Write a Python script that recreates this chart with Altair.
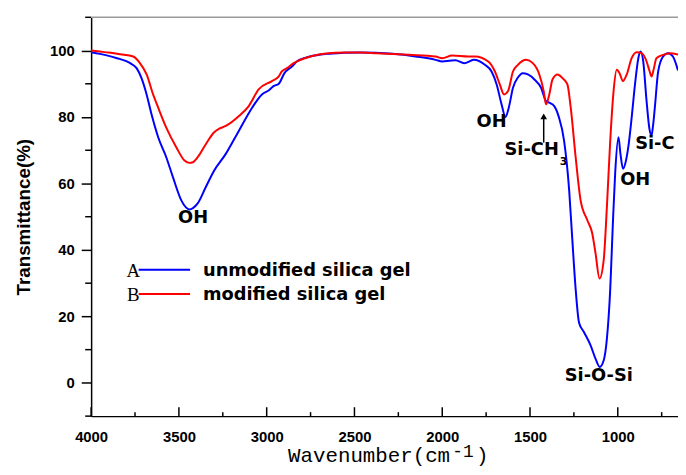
import altair as alt
import pandas as pd

# ---- data ----
blue_wn = [4000, 3950, 3900, 3853, 3800, 3778, 3741, 3713, 3684, 3656, 3618, 3572, 3534, 3487,
           3460, 3440, 3420, 3393, 3346, 3299, 3233, 3158, 3083, 3027, 2989, 2961, 2931, 2899,
           2856, 2828, 2752, 2658, 2560, 2470, 2380, 2282, 2151, 2038, 2000, 1960, 1925, 1875,
           1820, 1757, 1719, 1690, 1662, 1640, 1621, 1597, 1569, 1541, 1512, 1475, 1437, 1409,
           1390, 1362, 1337, 1306, 1277, 1259, 1240, 1221, 1193, 1155, 1127, 1103, 1080, 1062,
           1043, 1028, 1015, 996, 985, 970, 955, 940, 921, 902, 883, 870, 855, 836, 820, 808,
           800, 789, 770, 742, 714, 686, 657]
blue_t = [99.5, 99.0, 98.4, 97.7, 96.8, 96.2, 94.7, 91.7, 86.8, 80.8, 73.9, 67.9, 61.9, 55.0,
          52.8, 52.2, 52.6, 54.0, 59.0, 63.9, 68.9, 75.9, 82.8, 86.8, 88.0, 89.3, 90.0, 93.2,
          95.2, 96.7, 98.2, 99.0, 99.3, 99.4, 99.3, 99.0, 98.2, 97.2, 96.7, 96.9, 97.1, 96.2,
          97.2, 95.7, 93.7, 89.8, 83.8, 80.0, 82.8, 88.8, 91.9, 93.2, 92.8, 91.3, 88.8, 84.8,
          84.3, 83.3, 80.2, 72.9, 58.0, 43.1, 28.2, 18.2, 15.3, 11.3, 7.3, 4.8, 6.8, 13.3,
          28.2, 48.0, 63.0, 73.9, 69.0, 64.4, 66.5, 71.0, 79.8, 89.8, 97.7, 99.7, 96.7, 84.8, 76.5, 74.4,
          77.0, 82.8, 93.7, 98.2, 99.2, 98.2, 94.0]

red_wn = [4000, 3950, 3900, 3835, 3760, 3722, 3684, 3647, 3618, 3572, 3515, 3468, 3440, 3420,
          3393, 3346, 3299, 3270, 3233, 3158, 3102, 3046, 2970, 2931, 2914, 2884, 2846, 2752,
          2650, 2564, 2470, 2376, 2188, 2038, 2000, 1944, 1850, 1813, 1738, 1700, 1672, 1648,
          1625, 1597, 1569, 1522, 1484, 1447, 1422, 1409, 1390, 1372, 1343, 1315, 1287, 1268,
          1240, 1212, 1174, 1146, 1127, 1104, 1080, 1062, 1043, 1024, 1006, 990, 971, 949,
          921, 893, 864, 836, 820, 808, 795, 780, 742, 704, 657]
red_t = [100.0, 99.7, 99.4, 98.9, 98.2, 96.2, 92.8, 86.8, 82.8, 76.8, 70.9, 66.9, 66.2, 66.4,
         67.9, 71.9, 75.4, 76.5, 77.3, 80.3, 83.3, 88.3, 90.8, 92.2, 93.7, 94.7, 96.2, 98.2,
         99.2, 99.4, 99.4, 99.2, 98.7, 98.2, 97.7, 98.5, 98.2, 98.2, 96.7, 93.7, 89.8, 86.8,
         87.8, 93.7, 95.7, 97.2, 96.2, 92.8, 87.8, 83.8, 86.8, 91.3, 92.8, 91.7, 89.8, 82.8,
         67.9, 55.0, 49.0, 45.1, 39.1, 31.4, 37.1, 53.0, 72.9, 87.8, 94.2, 93.2, 90.8, 92.8,
         97.7, 99.5, 99.2, 96.7, 94.0, 92.2, 94.5, 97.7, 98.7, 99.2, 98.8]

series_names = ["unmodified silica gel", "modified silica gel"]
series_letters = ["A", "B"]
series_colors = ["#0000FF", "#FF0000"]

x_major = [4000, 3500, 3000, 2500, 2000, 1500, 1000]
x_minor = [3750, 3250, 2750, 2250, 1750, 1250, 750]
y_major = [0, 20, 40, 60, 80, 100]
y_minor = [-10, 10, 30, 50, 70, 90, 110]

ann_text = ["OH", "OH", "Si-O-Si", "OH", "Si-C"]
ann_wn = [3419, 1719, 1108, 901, 789]
ann_t = [49.7, 78.4, 2.2, 60.9, 72.0]

# ---- layout ----
W, H = 593, 403
xs = alt.Scale(domain=[657, 4000], reverse=True, nice=False, zero=False)
ys = alt.Scale(domain=[-10, 110], nice=False, zero=False)

xaxis = alt.Axis(values=x_major, format="d", title=None, grid=False, ticks=False, tickSize=0,
                 labelFont="Liberation Sans", labelFontWeight="bold", labelFontSize=15,
                 labelColor="black", labelPadding=14, labelFlush=False, labelOverlap=False,
                 domainColor="black", domainWidth=1.5)
yaxis = alt.Axis(values=y_major, format="d", title="Transmittance(%)", grid=False,
                 tickSize=10, tickColor="black", tickWidth=1.5,
                 labelFont="Liberation Sans", labelFontWeight="bold", labelFontSize=15,
                 labelColor="black", labelPadding=7,
                 titleFont="Liberation Sans", titleFontWeight="bold", titleFontSize=19,
                 titleColor="black", titlePadding=16,
                 domainColor="black", domainWidth=1.5)


def X(field):
    return alt.X(field, scale=xs, axis=xaxis)


def Y(field):
    return alt.Y(field, scale=ys, axis=yaxis)


blue_df = pd.DataFrame({"wn": blue_wn, "T": blue_t})
red_df = pd.DataFrame({"wn": red_wn, "T": red_t})

blue = alt.Chart(blue_df).mark_line(color=series_colors[0], strokeWidth=2, interpolate="monotone").encode(
    x=X("wn:Q"), y=Y("T:Q"), order=alt.Order("wn:Q", sort="descending"))
red = alt.Chart(red_df).mark_line(color=series_colors[1], strokeWidth=2, interpolate="monotone").encode(
    x=X("wn:Q"), y=Y("T:Q"), order=alt.Order("wn:Q", sort="descending"))

# inward x ticks
xt_major = alt.Chart(pd.DataFrame({"wn": x_major})).mark_rule(color="black", strokeWidth=1.5).encode(
    x=X("wn:Q"), y=alt.value(H), y2=alt.value(H - 9))
xt_minor = alt.Chart(pd.DataFrame({"wn": x_minor})).mark_rule(color="black", strokeWidth=1.5).encode(
    x=X("wn:Q"), y=alt.value(H), y2=alt.value(H - 4))
# minor y ticks (outward)
yt_minor = alt.Chart(pd.DataFrame({"T": y_minor})).mark_rule(color="black", strokeWidth=1.5).encode(
    y=Y("T:Q"), x=alt.value(-6), x2=alt.value(0))

# top frame line
top_line = alt.Chart(alt.Data(values=[{}])).mark_rule(color="#999999", strokeWidth=1.5).encode(
    x=alt.value(0), x2=alt.value(W), y=alt.value(0))

# annotations
ann_df = pd.DataFrame({"label": ann_text, "wn": ann_wn, "T": ann_t})
ann = alt.Chart(ann_df).mark_text(font="DejaVu Sans", fontWeight="bold", fontSize=18,
                                  align="center", baseline="middle", color="black").encode(
    x=X("wn:Q"), y=Y("T:Q"), text="label:N")
sich = alt.Chart(alt.Data(values=[{"wn": 1336, "T": 70.1, "s": "Si-CH"}])).mark_text(
    font="DejaVu Sans", fontWeight="bold", fontSize=18, align="right", baseline="middle",
    color="black").encode(x=X("wn:Q"), y=Y("T:Q"), text="s:N")
sub3 = alt.Chart(alt.Data(values=[{"wn": 1330, "T": 66.6, "s": "3"}])).mark_text(
    font="DejaVu Sans", fontWeight="bold", fontSize=11, align="left", baseline="middle",
    color="black").encode(x=X("wn:Q"), y=Y("T:Q"), text="s:N")
arrow_shaft = alt.Chart(alt.Data(values=[{"wn": 1422, "T": 72.3, "T2": 80.0}])).mark_rule(
    color="black", strokeWidth=1.5).encode(x=X("wn:Q"), y=Y("T:Q"), y2="T2:Q")
arrow_head = alt.Chart(alt.Data(values=[{"wn": 1422, "T": 80.2}])).mark_point(
    shape="triangle-up", filled=True, color="black", size=45, opacity=1).encode(
    x=X("wn:Q"), y=Y("T:Q"))

# legend
legend_layers = []
for i in range(2):
    yy = 256.5 + i * 24.5
    legend_layers.append(alt.Chart(alt.Data(values=[{}])).mark_text(
        font="Liberation Serif", fontSize=19, align="center", baseline="middle", color="black").encode(
        x=alt.value(42.5), y=alt.value(yy), text=alt.value(series_letters[i])))
    legend_layers.append(alt.Chart(alt.Data(values=[{}])).mark_rule(
        color=series_colors[i], strokeWidth=2).encode(
        x=alt.value(48), x2=alt.value(100), y=alt.value(yy - 1.5)))
    legend_layers.append(alt.Chart(alt.Data(values=[{}])).mark_text(
        font="DejaVu Sans", fontWeight="bold", fontSize=18, align="left", baseline="middle",
        color="black").encode(x=alt.value(113), y=alt.value(yy), text=alt.value(series_names[i])))

# x-axis title with superscript
t_main = alt.Chart(alt.Data(values=[{}])).mark_text(
    font="Liberation Mono", fontSize=21, align="left", baseline="alphabetic", color="black").encode(
    x=alt.value(199), y=alt.value(449), text=alt.value("Wavenumber(cm"))
t_sup = alt.Chart(alt.Data(values=[{}])).mark_text(
    font="Liberation Mono", fontSize=18, align="left", baseline="alphabetic", color="black").encode(
    x=alt.value(365), y=alt.value(444), text=alt.value("-1"))
t_close = alt.Chart(alt.Data(values=[{}])).mark_text(
    font="Liberation Mono", fontSize=21, align="left", baseline="alphabetic", color="black").encode(
    x=alt.value(389), y=alt.value(449), text=alt.value(")"))

chart = alt.layer(
    blue, red, xt_major, xt_minor, yt_minor, top_line, ann, sich, sub3, arrow_shaft, arrow_head,
    *legend_layers, t_main, t_sup, t_close
).properties(
    width=W, height=H,
    padding={"left": 84, "top": 7, "right": 0, "bottom": 49},
    autosize=alt.AutoSizeParams(type="none"),
    background="white",
).configure_view(strokeWidth=0)

chart.save("out.html", embed_options={"renderer": "svg", "actions": False})
